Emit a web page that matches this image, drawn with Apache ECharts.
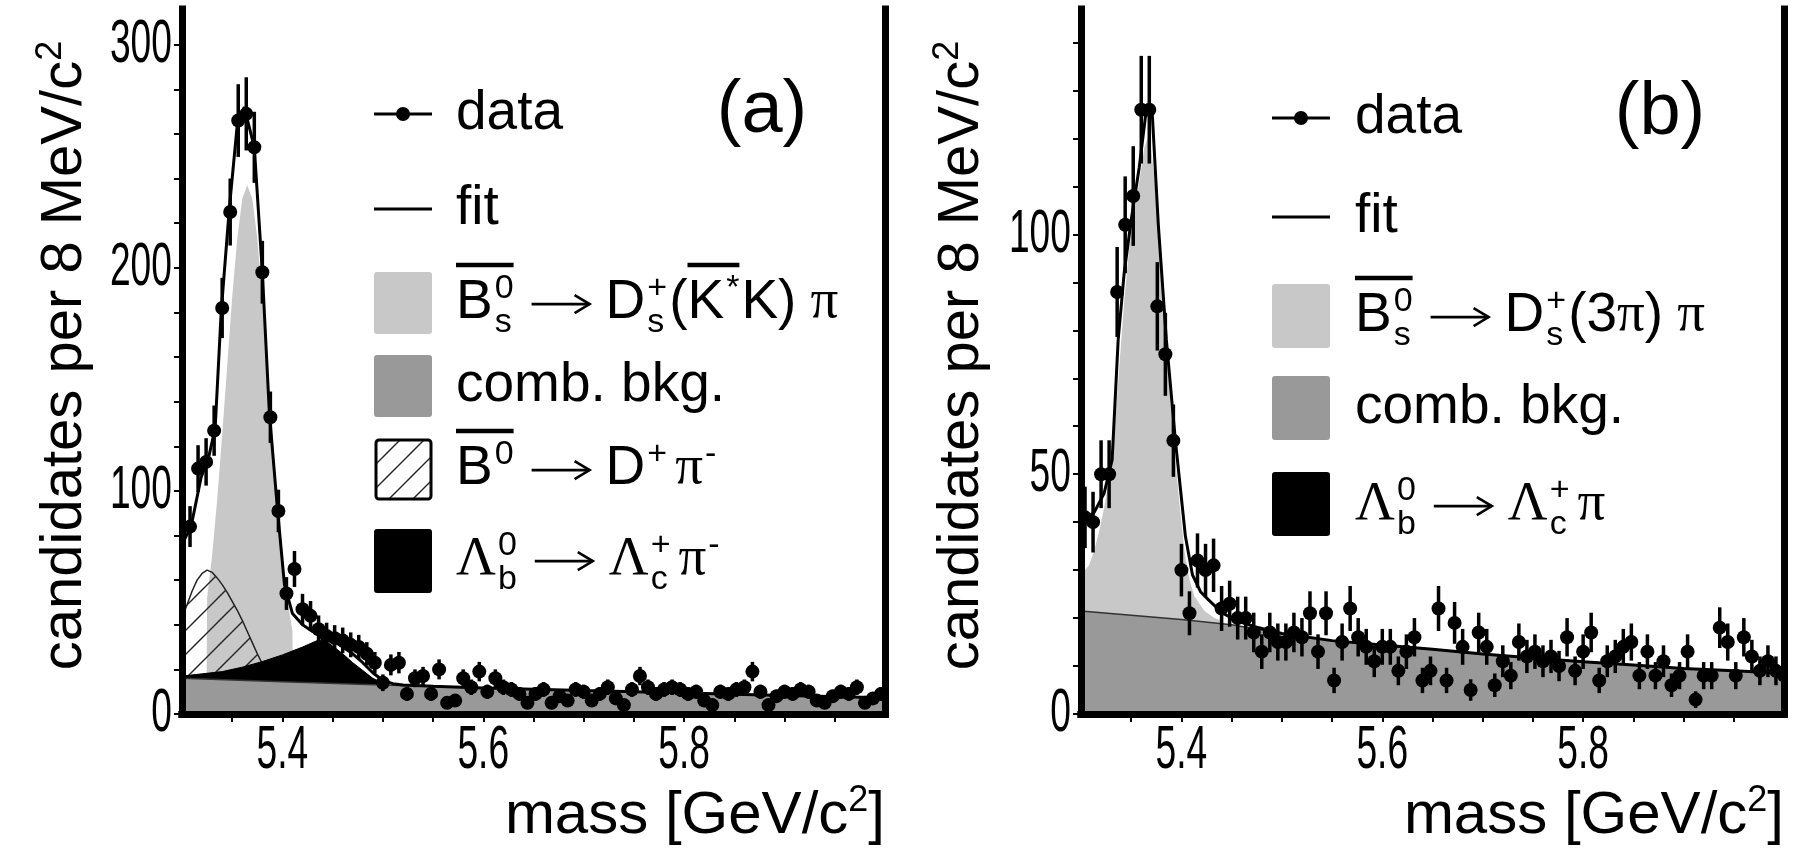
<!DOCTYPE html>
<html>
<head>
<meta charset="utf-8">
<script src="https://cdn.jsdelivr.net/npm/echarts@6/dist/echarts.min.js"></script>
<style>
  html, body { margin: 0; padding: 0; background: #fff; }
  #chart { width: 1793px; height: 855px; }
</style>
</head>
<body>
<div id="chart"></div>
<script>
// ---------- panel (a): Bs -> Ds(K*K) pi ----------
const massA = [
  5.308, 5.316, 5.324, 5.332, 5.340, 5.348, 5.356, 5.364, 5.372, 5.380,
  5.388, 5.396, 5.404, 5.412, 5.420, 5.428, 5.436, 5.444, 5.452, 5.460,
  5.468, 5.476, 5.484, 5.492, 5.500, 5.508, 5.516, 5.524, 5.532, 5.540,
  5.548, 5.556, 5.564, 5.572, 5.580, 5.588, 5.596, 5.604, 5.612, 5.620,
  5.628, 5.636, 5.644, 5.652, 5.660, 5.668, 5.676, 5.684, 5.692, 5.700,
  5.708, 5.716, 5.724, 5.732, 5.740, 5.748, 5.756, 5.764, 5.772, 5.780,
  5.788, 5.796, 5.804, 5.812, 5.820, 5.828, 5.836, 5.844, 5.852, 5.860,
  5.868, 5.876, 5.884, 5.892, 5.900, 5.908, 5.916, 5.924, 5.932, 5.940,
  5.948, 5.956, 5.964, 5.972, 5.980, 5.988, 5.996
];
const countsA = [
  84, 110, 113, 127, 182, 225, 266, 269, 254, 198,
  133, 91, 54, 65, 47, 44, 38, 35, 34, 33,
  31, 30, 27, 23, 14, 22, 23, 9, 16, 17,
  9, 20, 5, 6, 16, 12, 19, 10, 16, 12,
  11, 9, 5, 9, 11, 5, 8, 6, 11, 10,
  6, 9, 12, 7, 4, 11, 17, 12, 9, 11,
  12, 11, 9, 10, 6, 4, 10, 9, 11, 12,
  19, 10, 4, 8, 10, 9, 11, 10, 6, 5,
  8, 10, 9, 12, 5, 7, 9
];
// total fit
const fitMassA = [5.300, 5.309, 5.319, 5.327, 5.333, 5.339, 5.347, 5.355, 5.362, 5.372,
  5.380, 5.387, 5.395, 5.402, 5.410, 5.420, 5.430, 5.440, 5.450, 5.460,
  5.470, 5.480, 5.490, 5.500, 5.510, 5.520, 5.550, 5.600, 5.700, 5.800, 5.900, 6.000];
const fitA = [76, 84, 106, 116, 128, 180, 226, 264, 272, 254,
  198, 135, 92, 58, 45, 40, 37, 35, 33, 30,
  27, 23, 18.5, 15, 13.6, 13, 12.4, 11.7, 10.5, 9.4, 8.3, 7.3];
// signal component (upper edge, stacked on the combinatorial background)
const bsMassA = [5.3245, 5.325, 5.330, 5.335, 5.340, 5.345, 5.350, 5.355, 5.360, 5.365,
  5.370, 5.375, 5.380, 5.385, 5.390, 5.395, 5.400, 5.405, 5.410, 5.4105];
const bsA = [15.5, 52, 71, 96, 125, 156, 187, 213, 231, 237,
  231, 213, 186, 155, 124, 95, 70, 51, 37, 15];
// combinatorial background
const combMassA = [5.30, 5.40, 5.50, 5.60, 5.70, 5.80, 5.90, 6.00];
const combA = [16, 14.5, 13, 11.7, 10.5, 9.4, 8.3, 7.3];
// B0 -> D+ pi- reflection (upper edge)
const b0MassA = [5.300, 5.305, 5.310, 5.315, 5.320, 5.325, 5.330, 5.335, 5.340, 5.345,
  5.350, 5.355, 5.360, 5.365, 5.370, 5.375, 5.380, 5.385, 5.390];
const b0A = [43, 49, 55, 60, 63, 64.5, 63.5, 61, 58, 54.5,
  50.5, 46.5, 42, 37, 32, 27, 22.5, 18, 15];
// Lambda_b -> Lambda_c pi reflection (upper edge)
const lbMassA = [5.300, 5.320, 5.340, 5.360, 5.380, 5.400, 5.420, 5.435, 5.442, 5.450,
  5.460, 5.470, 5.480, 5.490, 5.500, 5.505];
const lbA = [17, 18, 19, 21, 23.5, 26.5, 30, 33, 33, 30.5,
  27, 23, 19.5, 16, 13.8, 13.2];

// ---------- panel (b): Bs -> Ds(3pi) pi ----------
const massB = [
  5.304, 5.312, 5.320, 5.328, 5.336, 5.344, 5.352, 5.360, 5.368, 5.376,
  5.384, 5.392, 5.400, 5.408, 5.416, 5.424, 5.432, 5.440, 5.448, 5.456,
  5.464, 5.472, 5.480, 5.488, 5.496, 5.504, 5.512, 5.520, 5.528, 5.536,
  5.544, 5.552, 5.560, 5.568, 5.576, 5.584, 5.592, 5.600, 5.608, 5.616,
  5.624, 5.632, 5.640, 5.648, 5.656, 5.664, 5.672, 5.680, 5.688, 5.696,
  5.704, 5.712, 5.720, 5.728, 5.736, 5.744, 5.752, 5.760, 5.768, 5.776,
  5.784, 5.792, 5.800, 5.808, 5.816, 5.824, 5.832, 5.840, 5.848, 5.856,
  5.864, 5.872, 5.880, 5.888, 5.896, 5.904, 5.912, 5.920, 5.928, 5.936,
  5.944, 5.952, 5.960, 5.968, 5.976, 5.984, 5.992, 6.000
];
const countsB = [
  41, 40, 50, 50, 88, 102, 108, 126, 126, 85,
  75, 57, 30, 21, 32, 30, 31, 22, 23, 20,
  20, 17, 13, 17, 15, 15, 17, 16, 21, 13,
  21, 7, 15, 22, 16, 14, 11, 14, 14, 9,
  13, 16, 7, 9, 22, 7, 19, 14, 5, 17,
  14, 6, 11, 8, 15, 12, 13, 11, 12, 10,
  16, 9, 13, 17, 7, 11, 12, 14, 15, 8,
  13, 8, 11, 6, 8, 13, 3, 8, 8, 18,
  15, 8, 16, 12, 9, 11, 9, 8
];
const fitMassB = [5.300, 5.313, 5.323, 5.331, 5.337, 5.343, 5.350, 5.358, 5.365, 5.371,
  5.377, 5.385, 5.394, 5.404, 5.411, 5.419, 5.427, 5.441, 5.454, 5.473,
  5.50, 5.55, 5.60, 5.65, 5.70, 5.75, 5.80, 5.85, 5.90, 5.95, 6.00];
const fitB = [40, 42, 46, 53, 78, 92, 103, 114, 126, 125,
  102, 78, 57, 37, 29, 25.5, 23.8, 21, 19.6, 18.2,
  16.8, 15.3, 14.4, 13.5, 12.5, 11.7, 10.9, 10.2, 9.5, 9.0, 8.5];
const bsMassB = [5.300, 5.308, 5.313, 5.318, 5.323, 5.328, 5.333, 5.338, 5.343, 5.348,
  5.353, 5.358, 5.363, 5.368, 5.373, 5.378, 5.383, 5.388, 5.393, 5.398,
  5.403, 5.408, 5.413, 5.423, 5.433, 5.441];
const bsB = [29, 31, 34, 38, 43, 49, 58, 72, 86, 97,
  105, 111, 118, 121, 112, 98, 82, 68, 55, 44,
  34, 28, 24.5, 21.5, 20, 19.4];
const combMassB = [5.30, 5.35, 5.40, 5.45, 5.50, 5.55, 5.60, 5.65, 5.70, 5.75, 5.80, 5.85, 5.90, 5.95, 6.00];
const combB = [21.5, 20.6, 19.7, 18.6, 16.8, 15.3, 14.4, 13.5, 12.5, 11.7, 10.9, 10.2, 9.5, 9.0, 8.5];

// ---------- axes ----------
const xLabelTicks = [5.4, 5.6, 5.8];
const xMinorTicks = [5.35, 5.40, 5.45, 5.50, 5.55, 5.60, 5.65, 5.70, 5.75, 5.80, 5.85, 5.90, 5.95];
const yLabelsA = [0, 100, 200, 300];
const yTicksA = [0, 20, 40, 60, 80, 100, 120, 140, 160, 180, 200, 220, 240, 260, 280, 300];
const yLabelsB = [0, 50, 100];
const yTicksB = [0, 10, 20, 30, 40, 50, 60, 70, 80, 90, 100, 110, 120, 130, 140];

const SANS = '"Liberation Sans", Arial, Helvetica, sans-serif';
const SERIF = '"Liberation Serif", "Times New Roman", serif';
const LIGHT = '#c8c8c8', MID = '#999999';

const zip = (xs, ys) => xs.map((x, i) => [x, ys[i]]);

function hatchPattern() {
  const s = 24, c = document.createElement('canvas');
  c.width = s; c.height = s;
  const g = c.getContext('2d');
  g.strokeStyle = '#222'; g.lineWidth = 1.4;
  g.beginPath();
  g.moveTo(-2, s + 2); g.lineTo(s + 2, -2);
  g.moveTo(-2, 2); g.lineTo(2, -2);
  g.moveTo(s - 2, s + 2); g.lineTo(s + 2, s - 2);
  g.stroke();
  return c;
}
const HATCH = { image: hatchPattern(), repeat: 'repeat' };

const frameLine = { show: true, lineStyle: { color: '#000', width: 7, cap: 'square' } };
const supRich = { s: { fontSize: 36, lineHeight: 36, verticalAlign: 'top', fontFamily: SANS,
  color: '#000', padding: [0, 0, 60, 0] } };

function bottomAxis(grid) {
  return {
    type: 'value', gridIndex: grid, min: 5.3, max: 6.0, z: 10,
    axisLine: frameLine,
    axisTick: { show: true, inside: false, length: 8, customValues: xMinorTicks,
      lineStyle: { color: '#000', width: 2 } },
    axisLabel: { show: false },
    splitLine: { show: false },
    name: 'mass [GeV/c{s|2}]', nameLocation: 'end', nameGap: 0, nameMoveOverlap: false,
    nameTextStyle: { color: '#000', fontFamily: SANS, fontSize: 60, lineHeight: 66,
      align: 'right', verticalAlign: 'top', padding: [69, 0, 0, 0], rich: supRich }
  };
}
function topAxis(grid) {
  return { type: 'value', gridIndex: grid, position: 'top', min: 5.3, max: 6.0, z: 10,
    axisLine: frameLine, axisTick: { show: false }, axisLabel: { show: false },
    splitLine: { show: false } };
}
function leftAxis(grid, max, ticks, gap) {
  return {
    type: 'value', gridIndex: grid, min: 0, max: max, z: 10,
    axisLine: frameLine,
    axisTick: { show: true, inside: false, length: 8, customValues: ticks,
      lineStyle: { color: '#000', width: 2 } },
    axisLabel: { show: false },
    splitLine: { show: false },
    name: 'candidates per 8 MeV/c{s|2}', nameLocation: 'middle', nameRotate: 90, nameGap: gap,
    nameMoveOverlap: false,
    nameTextStyle: { color: '#000', fontFamily: SANS, fontSize: 58, lineHeight: 64,
      padding: [0, 0, 0, 12], rich: supRich }
  };
}
function rightAxis(grid, max) {
  return { type: 'value', gridIndex: grid, position: 'right', min: 0, max: max, z: 10,
    axisLine: frameLine, axisTick: { show: false }, axisLabel: { show: false },
    splitLine: { show: false } };
}

function fillSeries(axis, xs, ys, fill, z, stroke, lw) {
  return {
    type: 'line', xAxisIndex: axis, yAxisIndex: axis, z: z, silent: true,
    symbol: 'none', showSymbol: false, animation: false,
    data: zip(xs, ys),
    lineStyle: stroke ? { color: stroke, width: lw } : { width: 0, opacity: 0 },
    areaStyle: fill ? { color: fill, opacity: 1 } : undefined
  };
}
function dataSeries(axis, xs, counts) {
  return {
    type: 'custom', xAxisIndex: axis, yAxisIndex: axis, z: 7, silent: true, clip: true,
    animation: false,
    encode: { x: 0, y: 1 },
    data: xs.map((m, i) => [m, counts[i], Math.sqrt(counts[i])]),
    renderItem: (params, api) => {
      const m = api.value(0), n = api.value(1), e = api.value(2);
      const c = api.coord([m, n]);
      const hi = api.coord([m, n + e]);
      const lo = api.coord([m, Math.max(n - e, 0)]);
      const l = api.coord([m - 0.004, n]), r = api.coord([m + 0.004, n]);
      return { type: 'group', children: [
        { type: 'line', shape: { x1: c[0], y1: hi[1], x2: c[0], y2: lo[1] },
          style: { stroke: '#000', lineWidth: 3.5 } },
        { type: 'line', shape: { x1: l[0], y1: c[1], x2: r[0], y2: c[1] },
          style: { stroke: '#000', lineWidth: 3.5 } },
        { type: 'circle', shape: { cx: c[0], cy: c[1], r: 7 }, style: { fill: '#000' } }
      ] };
    }
  };
}

// ---------- legend drawing (formula text built from pieces) ----------
const measureCtx = document.createElement('canvas').getContext('2d');
function textWidth(s, font) { measureCtx.font = font; return measureCtx.measureText(s).width; }
function txt(s, x, y, font, align) {
  return { type: 'text', x: x, y: y, silent: true, z: 20,
    style: { text: s, font: font, fill: '#000', textAlign: align || 'left', textVerticalAlign: 'middle',
      align: align || 'left', verticalAlign: 'middle' } };
}
function hline(x1, x2, y, w) {
  return { type: 'line', silent: true, z: 20, shape: { x1: x1, y1: y, x2: x2, y2: y },
    style: { stroke: '#000', lineWidth: w } };
}
function arrowEl(x, y, w) {
  return [hline(x, x + w, y, 2.6),
    { type: 'polyline', silent: true, z: 20,
      shape: { points: [[x + w - 15, y - 9], [x + w, y], [x + w - 15, y + 9]] },
      style: { stroke: '#000', lineWidth: 2.6, fill: null } }];
}
function formula(x0, yc, F, tokens) {
  const out = [];
  const sF = Math.round(F * 0.62);
  let x = x0, overFrom = null;
  tokens.forEach(tk => {
    if (tk.os) overFrom = x;
    if (tk.t !== undefined) {
      const font = F + 'px ' + (tk.serif ? SERIF : SANS);
      out.push(txt(tk.t, x, yc, font));
      x += textWidth(tk.t, font);
    } else if (tk.sup !== undefined || tk.sub !== undefined) {
      const font = sF + 'px ' + SANS;
      let w = 0;
      if (tk.sup) { out.push(txt(tk.sup, x + 2, yc - 0.27 * F, font)); w = Math.max(w, textWidth(tk.sup, font)); }
      if (tk.sub) { out.push(txt(tk.sub, x + 2, yc + 0.36 * F, font)); w = Math.max(w, textWidth(tk.sub, font)); }
      x += w + 4;
    } else if (tk.gap) {
      x += tk.gap;
    } else if (tk.arrow) {
      arrowEl(x, yc + 0.02 * F, tk.arrow).forEach(e => out.push(e));
      x += tk.arrow;
    }
    if (tk.oe) out.push(hline(overFrom, x - 2, yc - 0.69 * F, 4.5));
  });
  return out;
}
function box(x, y, w, h, fill, stroke) {
  return { type: 'rect', silent: true, z: 20, shape: { x: x, y: y, width: w, height: h, r: 3 },
    style: { fill: fill, stroke: stroke || null, lineWidth: stroke ? 3 : 0 } };
}
function dataKey(x, y) {
  return [hline(x, x + 58, y, 3),
    { type: 'circle', silent: true, z: 20, shape: { cx: x + 29, cy: y, r: 7 }, style: { fill: '#000' } }];
}

const F = 55, AR = 58, G = 16;
const legendA = [].concat(
  dataKey(374, 114), formula(456, 114, F, [{ t: 'data' }]),
  [hline(374, 432, 209, 3)], formula(456, 209, F, [{ t: 'fit' }]),
  [box(374, 272, 58, 62, LIGHT)],
  formula(456, 303, F, [{ t: 'B', os: 1 }, { sup: '0', sub: 's', oe: 1 }, { gap: G }, { arrow: AR }, { gap: G },
    { t: 'D' }, { sup: '+', sub: 's' }, { t: '(' }, { t: 'K', os: 1 }, { sup: '*', oe: 1 }, { t: 'K' }, { t: ')' },
    { gap: 14 }, { t: 'π', serif: 1 }]),
  [box(374, 355, 58, 62, MID)], formula(456, 386, F, [{ t: 'comb. bkg.' }]),
  [box(376, 440, 55, 59, HATCH, '#000')],
  formula(456, 469, F, [{ t: 'B', os: 1 }, { sup: '0', oe: 1 }, { gap: G }, { arrow: AR }, { gap: G },
    { t: 'D' }, { sup: '+' }, { gap: 6 }, { t: 'π', serif: 1 }, { sup: '-' }]),
  [box(374, 529, 58, 64, '#000')],
  formula(456, 560, F, [{ t: 'Λ', serif: 1 }, { sup: '0', sub: 'b' }, { gap: G }, { arrow: AR }, { gap: G },
    { t: 'Λ', serif: 1 }, { sup: '+', sub: 'c' }, { gap: 6 }, { t: 'π', serif: 1 }, { sup: '-' }]),
  [txt('(a)', 762, 112, '74px ' + SANS, 'center')]
);
const legendB = [].concat(
  dataKey(1272, 118), formula(1355, 118, F, [{ t: 'data' }]),
  [hline(1272, 1330, 217, 3)], formula(1355, 217, F, [{ t: 'fit' }]),
  [box(1272, 284, 58, 64, LIGHT)],
  formula(1355, 316, F, [{ t: 'B', os: 1 }, { sup: '0', sub: 's', oe: 1 }, { gap: G }, { arrow: AR }, { gap: G },
    { t: 'D' }, { sup: '+', sub: 's' }, { t: '(3' }, { t: 'π', serif: 1 }, { t: ')' },
    { gap: 14 }, { t: 'π', serif: 1 }]),
  [box(1272, 376, 58, 64, MID)], formula(1355, 408, F, [{ t: 'comb. bkg.' }]),
  [box(1272, 472, 58, 64, '#000')],
  formula(1355, 505, F, [{ t: 'Λ', serif: 1 }, { sup: '0', sub: 'b' }, { gap: G }, { arrow: AR }, { gap: G },
    { t: 'Λ', serif: 1 }, { sup: '+', sub: 'c' }, { gap: 6 }, { t: 'π', serif: 1 }]),
  [txt('(b)', 1660, 114, '74px ' + SANS, 'center')]
);

const chart = echarts.init(document.getElementById('chart'), null, { renderer: 'canvas' });
chart.setOption({
  animation: false,
  backgroundColor: '#fff',
  grid: [
    { left: 182, top: 9, width: 703, height: 705, containLabel: false, outerBoundsMode: 'none' },
    { left: 1081, top: 9, width: 703, height: 705, containLabel: false, outerBoundsMode: 'none' }
  ],
  xAxis: [bottomAxis(0), topAxis(0), bottomAxis(1), topAxis(1)],
  yAxis: [leftAxis(0, 316, yTicksA, 85), rightAxis(0, 316),
          leftAxis(1, 147, yTicksB, 87), rightAxis(1, 147)],
  series: [
    // panel (a)
    fillSeries(0, bsMassA, bsA, LIGHT, 2),
    fillSeries(0, b0MassA, b0A, HATCH, 3, '#222', 1.5),
    fillSeries(0, lbMassA, lbA, '#000', 4, '#000', 1),
    fillSeries(0, combMassA, combA, MID, 5, '#333', 1.5),
    fillSeries(0, fitMassA, fitA, null, 6, '#000', 3),
    dataSeries(0, massA, countsA),
    // panel (b)
    fillSeries(2, bsMassB, bsB, LIGHT, 2),
    fillSeries(2, combMassB, combB, MID, 5, '#333', 1.5),
    fillSeries(2, fitMassB, fitB, null, 6, '#000', 3),
    dataSeries(2, massB, countsB)
  ]
});

// Tick labels in a condensed face, placed through the axes' own scales.
const TICK_FONT = '62px ' + SANS, SQUEEZE = 0.6;
function tickLabel(s, x, y, align) {
  const el = txt(s, 0, 0, TICK_FONT, align);
  el.x = x; el.y = y; el.scaleX = SQUEEZE;
  return el;
}
const tickLabels = [];
[[0, yLabelsA], [2, yLabelsB]].forEach(([ax, labels]) => {
  const x0 = chart.convertToPixel({ xAxisIndex: ax }, 5.3);
  labels.forEach(v => {
    const y = chart.convertToPixel({ yAxisIndex: ax }, v);
    tickLabels.push(tickLabel(String(v), x0 - 10, y, 'right'));
  });
  const yb = chart.convertToPixel({ yAxisIndex: ax }, 0);
  xLabelTicks.forEach(v => {
    const x = chart.convertToPixel({ xAxisIndex: ax }, v);
    tickLabels.push(tickLabel(v.toFixed(1), x, yb + 37, 'center'));
  });
});

chart.setOption({ graphic: { elements: legendA.concat(legendB, tickLabels) } });
</script>
</body>
</html>
